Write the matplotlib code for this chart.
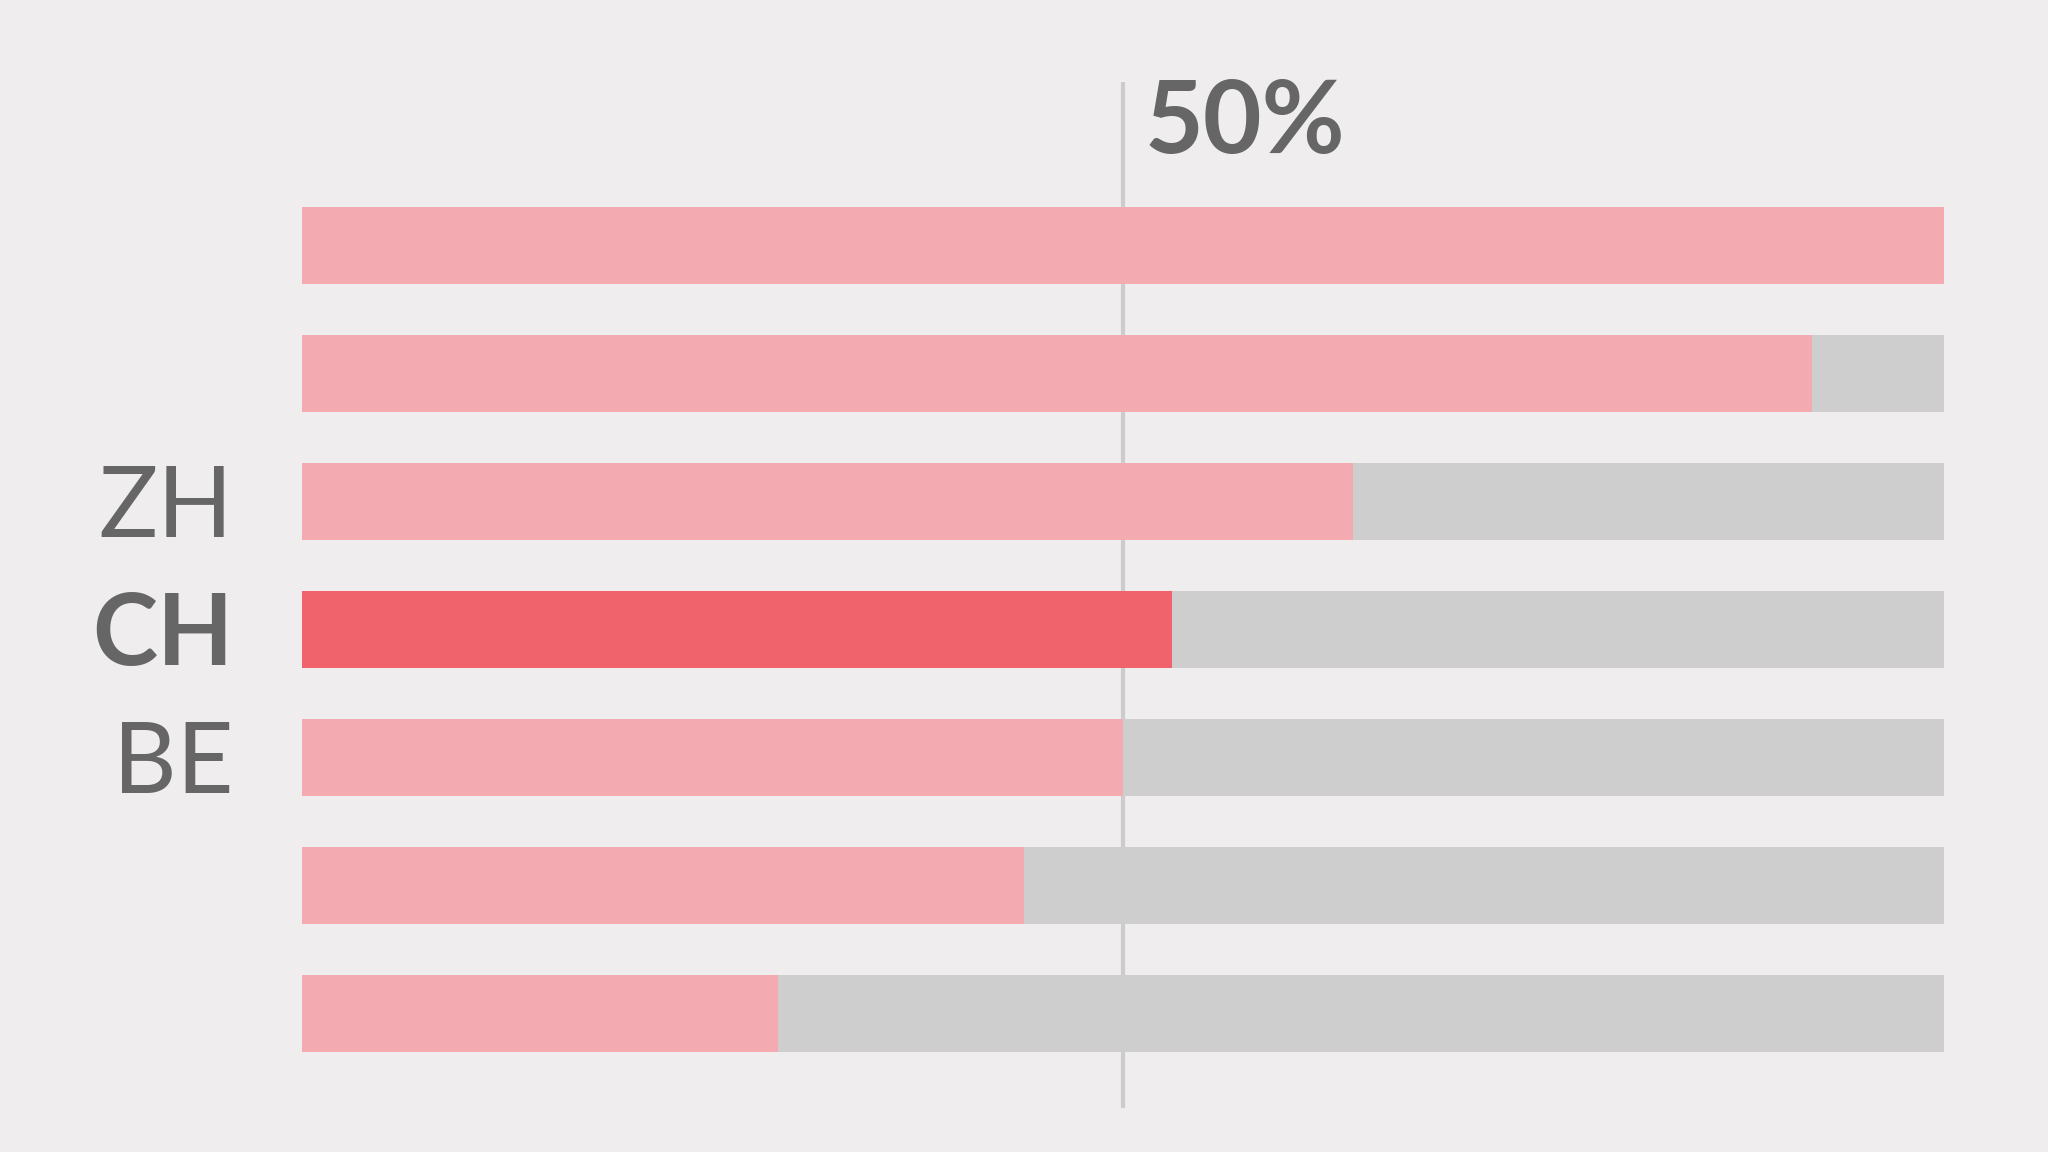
import matplotlib
matplotlib.use("Agg")
import matplotlib.pyplot as plt

values = [100, 92, 64, 53, 50, 44, 29]
labels = ["", "", "ZH", "CH", "BE", "", ""]
highlight = "CH"
reference_value = 50
reference_label = "50%"

BG = "#efedee"
PINK = "#f4aab1"
RED = "#f0636c"
GRAY = "#cecece"
TEXT = "#666666"
LINE = "#cccccc"

fig = plt.figure(figsize=(20.48, 11.52), dpi=100, facecolor=BG)
ax = fig.add_axes([0.1475, 0.0386, 0.949 - 0.1475, 0.9288 - 0.0386])
ax.set_facecolor(BG)
ax.patch.set_alpha(0)

y = list(range(len(values)))
h = 0.6
ax.axvline(reference_value, color=LINE, lw=3, zorder=1)
ax.barh(y, [100] * len(values), height=h, color=GRAY, zorder=2)
colors = [RED if l == highlight else PINK for l in labels]
ax.barh(y, values, height=h, color=colors, zorder=3)

ax.set_xlim(0, 100)
ax.set_ylim(6 + 0.734, -1.277)
ax.axis("off")

font = "Lato"
for yi, lab in zip(y, labels):
    if lab:
        ax.text(-4.2, yi + 0.275, lab, ha="right", va="baseline",
                fontsize=71, color=TEXT, family=font,
                fontweight="bold" if lab == highlight else "normal")

ax.text(51.3, -0.724, reference_label, ha="left", va="baseline",
        fontsize=73, color=TEXT, family=font, fontweight="bold")

fig.savefig("out.png", dpi=100, facecolor=BG)
